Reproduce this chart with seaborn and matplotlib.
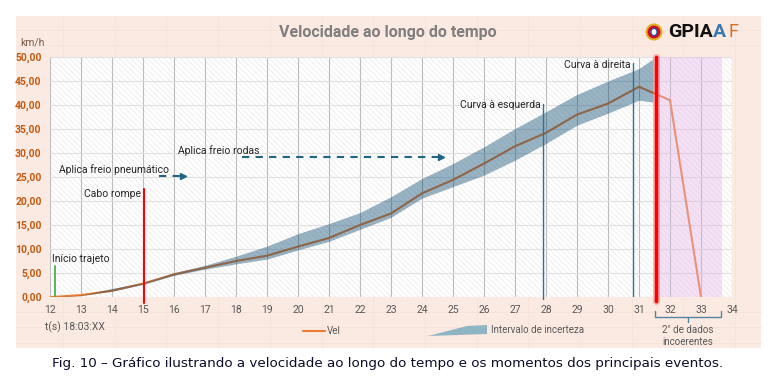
import numpy as np
import pandas as pd
import matplotlib
matplotlib.use("Agg")
import matplotlib.pyplot as plt
import seaborn as sns
from matplotlib.patches import Rectangle, Polygon, Ellipse

# Dados
tempo = [12, 12.2, 13, 14, 15, 16, 17, 18, 19, 20, 21, 22, 23, 24, 25, 26, 27, 28, 29, 30, 31, 32, 33]
vel = [0.0, 0.05, 0.4, 1.3, 2.8, 4.7, 6.1, 7.5, 8.6, 10.5, 12.3, 15.0, 17.4, 21.6, 24.4, 27.8, 31.4,
       34.2, 38.0, 40.3, 43.8, 41.0, 0.0]

tempo_int = [12, 13, 14, 15, 16, 17, 18, 19, 20, 21, 22, 23, 24, 25, 26, 27, 28, 29, 30, 31, 31.45]
int_sup = [0.0, 0.4, 1.8, 3.0, 5.1, 6.6, 8.5, 10.6, 13.2, 15.3, 17.6, 20.9, 24.7, 27.8, 31.3, 35.1,
           38.6, 42.2, 45.0, 47.6, 49.6]
int_inf = [0.0, 0.3, 1.2, 2.6, 4.5, 5.8, 6.9, 7.9, 9.8, 11.6, 14.1, 16.6, 20.6, 23.0, 25.4, 28.5,
           32.0, 35.8, 38.3, 41.0, 40.6]

# Eventos (tempo, altura da linha)
t_inicio, h_inicio = 12.17, 6.5
t_cabo, h_cabo = 15.03, 22.5
t_esq, h_esq = 27.9, 40.3
t_dir, h_dir = 30.82, 48.7
t_falha = 31.55
incoerente = (31.62, 33.67)
freio_pneu = (15.5, 16.3, 25.2)
freio_rodas = (18.2, 24.6, 29.2)

xticks = list(range(12, 35))
yticks = list(range(0, 51, 5))

df = pd.DataFrame({"t": tempo, "Vel": vel})

sns.set_theme(style="white")
plt.rcParams['font.family'] = ['Roboto', 'DejaVu Sans']
plt.rcParams['hatch.linewidth'] = 0.4

W, H = 782, 382
fig = plt.figure(figsize=(W / 100, H / 100), dpi=100)
fig.patch.set_facecolor('white')

# painel de fundo (estilo Excel)
fig.add_artist(Rectangle((16 / W, 1 - 348 / H), 745 / W, 332 / H, transform=fig.transFigure,
                         facecolor='#fbeae1', edgecolor='none', zorder=-10))
for yp in [30, 45, 312, 327, 343]:
    fig.add_artist(plt.Line2D([16 / W, 761 / W], [1 - yp / H] * 2, transform=fig.transFigure,
                              color='#f6e1d7', lw=0.5, zorder=-9))
for xp in np.arange(63, 761, 51.7):
    fig.add_artist(plt.Line2D([xp / W] * 2, [1 - 348 / H, 1 - 16 / H], transform=fig.transFigure,
                              color='#f6e1d7', lw=0.5, zorder=-9))

ax = fig.add_axes([50 / W, 1 - 297 / H, 682 / W, 240 / H])
ax.set_facecolor('none')
ax.add_patch(Rectangle((12, 0), 22, 50, facecolor='white', edgecolor='#e3e3e3',
                       hatch='\\\\\\\\\\\\', lw=0, zorder=0.1))
for x in xticks:
    ax.axvline(x, color='#bdbdbd', lw=0.8, zorder=0.5)
for y in yticks:
    ax.axhline(y, color='#e0e0e0', lw=0.8, zorder=0.5)

sns.lineplot(data=df, x="t", y="Vel", color='#ed7d31', lw=1.5, ax=ax, zorder=2)
ax.fill_between(tempo_int, int_inf, int_sup, color='#00436b', alpha=0.4, lw=0, zorder=3)
ax.axvspan(*incoerente, color='#e6b4e6', alpha=0.4, lw=0, zorder=4)

# linhas de eventos
ax.plot([t_inicio] * 2, [0, h_inicio], color='#4caf50', lw=1.3, zorder=5)
ax.plot([t_cabo] * 2, [-1.2, h_cabo], color='#ff0000', lw=1.5, zorder=5, clip_on=False)
ax.plot([t_esq] * 2, [-0.5, h_esq], color='#2f7394', lw=1.0, zorder=5, clip_on=False)
ax.plot([t_dir] * 2, [0, h_dir], color='#2f7394', lw=1.0, zorder=5)
ax.plot([t_falha] * 2, [-0.8, 50], color='#ff6060', lw=5, alpha=0.45, zorder=6, clip_on=False)
ax.plot([t_falha] * 2, [-0.8, 50], color='#ff0000', lw=2.5, zorder=6, clip_on=False)

# setas tracejadas
for x0, x1, y in [freio_pneu, freio_rodas]:
    ax.plot([x0, x1 - 0.1], [y, y], color='#1f6585', lw=1.5, dashes=(3.5, 3), zorder=5)
    ax.plot([x1], [y], marker='>', color='#1f6585', ms=5, zorder=5)

txt = dict(fontsize=7.5, color='#262626', va='center', zorder=7)
ax.text(12.06, 7.9, "Início trajeto", ha='left', **txt)
ax.text(t_cabo - 0.1, 21.5, "Cabo rompe", ha='right', **txt)
ax.text(12.29, 26.5, "Aplica freio pneumático", ha='left', **txt)
ax.text(16.13, 30.6, "Aplica freio rodas", ha='left', **txt)
ax.text(t_esq - 0.07, 40.0, "Curva à esquerda", ha='right', **txt)
ax.text(t_dir - 0.1, 48.3, "Curva à direita", ha='right', **txt)

ax.set_xlim(12, 34)
ax.set_ylim(0, 50)
ax.set_xticks(xticks)
ax.set_yticks(yticks)
ax.set_yticklabels([f"{v:.2f}".replace('.', ',') for v in yticks], color='#c55a11',
                   fontweight='bold', fontsize=7.5)
ax.set_xticklabels([str(v) for v in xticks], color='#595959', fontsize=7.5)
ax.tick_params(axis='both', length=0)
ax.tick_params(axis='y', pad=6)
ax.tick_params(axis='x', pad=6)
ax.set_xlabel("")
ax.set_ylabel("")
for s in ax.spines.values():
    s.set_visible(False)

# textos do painel
fig.text(388 / W, 1 - 33 / H, "Velocidade ao longo do tempo", ha='center', va='center',
         fontsize=11.5, fontweight='bold', color='#7f7f7f')
fig.text(20 / W, 1 - 43 / H, "km/h", ha='left', va='center', fontsize=7.5, color='#7a5a4a')
fig.text(45 / W, 1 - 327 / H, "t(s) 18:03:XX", ha='left', va='center', fontsize=7.5,
         color='#595959')

# legenda
fig.add_artist(plt.Line2D([303 / W, 325 / W], [1 - 331 / H] * 2, transform=fig.transFigure,
                          color='#ed7d31', lw=1.5))
fig.text(327 / W, 1 - 331 / H, "Vel", ha='left', va='center', fontsize=7, color='#595959')
fig.add_artist(Polygon([(428 / W, 1 - 336 / H), (467 / W, 1 - 326 / H), (487 / W, 1 - 325 / H),
                        (487 / W, 1 - 334 / H)], closed=True, transform=fig.transFigure,
                       facecolor='#8fb4c4', edgecolor='none'))
fig.text(491 / W, 1 - 330 / H, "Intervalo de incerteza", ha='left', va='center', fontsize=7,
         color='#595959')

# chaveta dos dados incoerentes
bx = [655 / W, 655 / W, 721 / W, 721 / W]
by = [1 - 311 / H, 1 - 317 / H, 1 - 317 / H, 1 - 311 / H]
fig.add_artist(plt.Line2D(bx, by, transform=fig.transFigure, color='#4f86a3', lw=1))
fig.add_artist(plt.Line2D([688 / W] * 2, [1 - 317 / H, 1 - 322 / H], transform=fig.transFigure,
                          color='#4f86a3', lw=1))
fig.text(688 / W, 1 - 330 / H, "2\" de dados", ha='center', va='center', fontsize=7,
         color='#595959')
fig.text(688 / W, 1 - 342 / H, "incoerentes", ha='center', va='center', fontsize=7,
         color='#595959')

# logotipo
fig.add_artist(Ellipse((654 / W, 1 - 32 / H), 15 / W, 15 / H, transform=fig.transFigure,
                       facecolor='#c8102e', edgecolor='#e0b020', lw=1.5))
fig.add_artist(Ellipse((654 / W, 1 - 32 / H), 6 / W, 7 / H, transform=fig.transFigure,
                       facecolor='white', edgecolor='#1f4fa0', lw=0.8))
fig.text(668 / W, 1 - 32 / H, "GPIA", ha='left', va='center', fontsize=14, fontweight='bold',
         color='#111111')
fig.text(713 / W, 1 - 32 / H, "A", ha='left', va='center', fontsize=14, fontweight='bold',
         color='#3a78b0')
fig.text(729 / W, 1 - 32 / H, "F", ha='left', va='center', fontsize=13, color='#d0702a')

# legenda da figura
fig.text(388 / W, 1 - 364 / H,
         "Fig. 10 – Gráfico ilustrando a velocidade ao longo do tempo e os momentos dos principais eventos.",
         ha='center', va='center', fontsize=9.7, color='#0c0c2a', family=['DejaVu Sans'])

fig.savefig("out.png", dpi=100)
